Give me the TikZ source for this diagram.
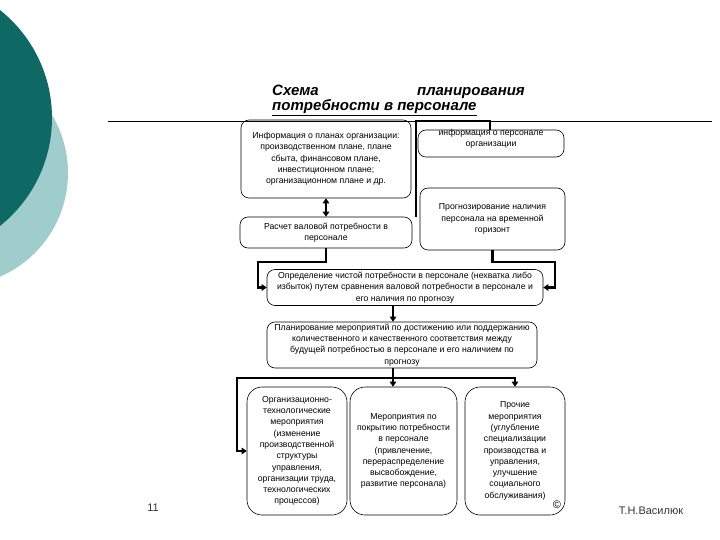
\documentclass[tikz,border=0pt]{standalone}
\usepackage{fontspec}
\setmainfont{Liberation Sans}
\usetikzlibrary{arrows.meta}
\definecolor{darkteal}{RGB}{14,104,100}
\definecolor{lightteal}{RGB}{158,205,204}
\begin{document}
\begin{tikzpicture}[x=1pt,y=-1pt,
  box/.style={draw, line width=0.6pt, rounded corners=8pt, align=center, inner sep=1pt, font=\fontsize{8.7}{11.3}\selectfont},
  bigbox/.style={box, rounded corners=15pt},
  txt/.style={align=center, inner sep=0pt, font=\fontsize{8.7}{11.3}\selectfont},
  conn/.style={line width=2.2pt},
  arr/.style={line width=2.2pt, -{Triangle[length=5pt,width=6.5pt]}},
  dbl/.style={line width=2.2pt, {Triangle[length=5pt,width=6.5pt]}-{Triangle[length=5pt,width=6.5pt]}},
  title/.style={inner sep=0pt, font=\fontsize{15}{18}\selectfont\bfseries\itshape},
  foot/.style={inner sep=0pt, text=black!80, font=\fontsize{11}{13}\selectfont}
]
\useasboundingbox (0,0) rectangle (720,540);
% decorative circles
\fill[lightteal] (-45,173) circle (113pt);
\fill[darkteal] (-86,118) circle (138pt);
% title
\node[title, anchor=base west] (t1) at (272,96) {Схема};
\node[title, anchor=base east] (t2) at (525,96) {планирования};
\node[title, anchor=base west] (t3) at (272,111) {\underline{потребности в персонале}};
\coordinate (hl) at (108,121);
\coordinate (hr) at (712,121);
\draw[line width=0.7pt] (hl) -- (hr);
% boxes
\node[box, minimum width=170pt, minimum height=78pt] (A) at (326,159)
  {Информация о планах организации:\\производственном плане, плане\\сбыта, финансовом плане,\\инвестиционном плане;\\организационном плане и др.};
\node[box, minimum width=146pt, minimum height=27pt] (B) at (491,143.5) {};
\node[txt] (Bt) at (491,139) {информация о персонале\\организации};
\node[box, minimum width=172pt, minimum height=31pt] (R) at (326,232.5)
  {Расчет валовой потребности в\\персонале};
\node[box, minimum width=145pt, minimum height=62pt] (P) at (492.5,219)
  {Прогнозирование наличия\\персонала на временной\\горизонт};
\node[box, minimum width=276pt, minimum height=36pt] (D) at (405,287.5)
  {Определение чистой потребности в персонале (нехватка либо\\избыток) путем сравнения валовой потребности в персонале и\\его наличия по прогнозу};
\node[box, minimum width=270pt, minimum height=46pt] (Pl) at (402,345)
  {Планирование мероприятий по достижению или поддержанию\\количественного и качественного соответствия между\\будущей потребностью в персонале и его наличием по\\прогнозу};
\node[bigbox, minimum width=100pt, minimum height=128pt] (L) at (297,451)
  {Организационно-\\технологические\\мероприятия\\(изменение\\производственной\\структуры\\управления,\\организации труда,\\технологических\\процессов)};
\node[bigbox, minimum width=107pt, minimum height=128pt] (M) at (403.5,451)
  {Мероприятия по\\покрытию потребности\\в персонале\\(привлечение,\\перераспределение\\высвобождение,\\развитие персонала)};
\node[bigbox, minimum width=100pt, minimum height=128pt] (Rt) at (515,451)
  {Прочие\\мероприятия\\(углубление\\специализации\\производства и\\управления,\\улучшение\\социального\\обслуживания)};
\node[inner sep=0pt, font=\fontsize{11}{12}\selectfont] (copy) at (557,505) {©};
% footer
\node[foot] (pg) at (153,508) {11};
\node[foot] (au) at (651,511) {Т.Н.Василюк};
% connectors
\draw[dbl] (A.south) -- (R.north);
\coordinate (b1) at (490,121);
\coordinate (b2) at (416,121);
\draw[conn] (B.north -| b1) -- (b1) -- (b2) -- (b2 |- R.north);
\coordinate (l1) at (258,262);
\coordinate (r1) at (555,262);
\draw[arr] (R.south) |- (l1) |- (D.west);
\draw[arr] (P.south) |- (r1) |- (D.east);
\coordinate (c1) at (393,0);
\draw[arr] (D.south -| c1) -- (Pl.north -| c1);
\coordinate (hub) at (393,378);
\coordinate (rj) at (515,378);
\coordinate (lj) at (237,378);
\draw[conn] (Pl.south -| hub) -- (hub);
\draw[arr] (hub) -- (M.north -| hub);
\draw[arr] (hub) -- (rj) -- (Rt.north -| rj);
\draw[arr] (hub) -- (lj) |- (L.west);
\end{tikzpicture}
\end{document}
